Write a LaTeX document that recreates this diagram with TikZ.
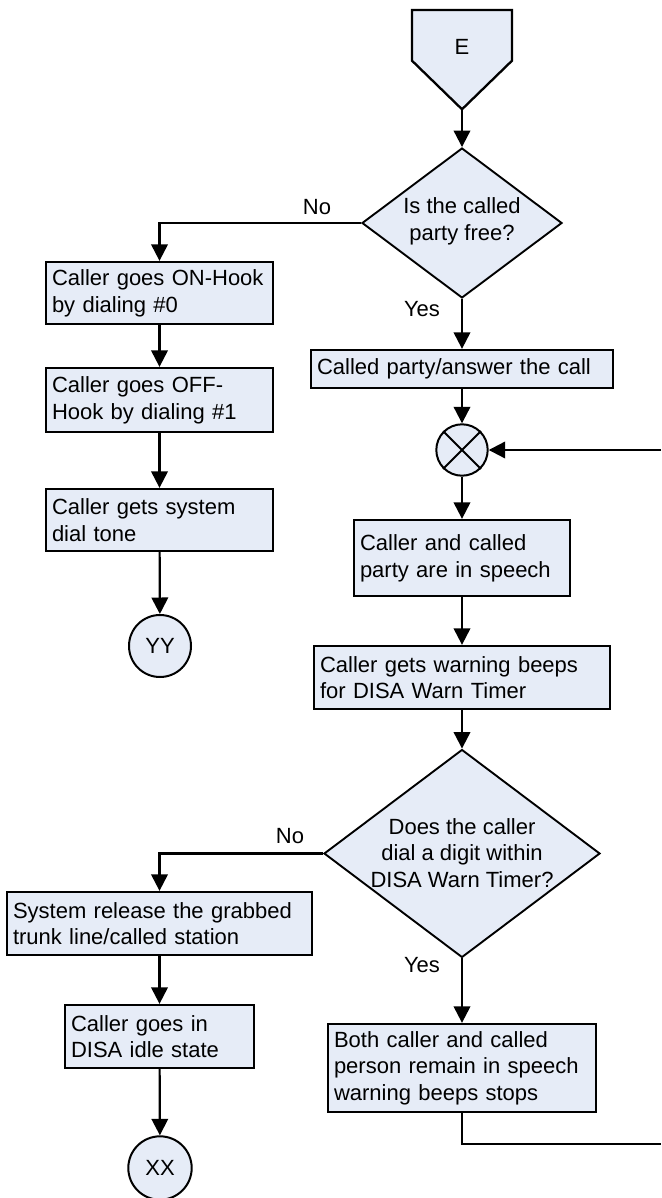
\documentclass[tikz,border=0pt]{standalone}
\usepackage{fontspec}
\setmainfont{Liberation Sans}
\usetikzlibrary{arrows.meta,shapes.geometric}
\definecolor{boxfill}{RGB}{230,236,247}
\begin{document}
\begin{tikzpicture}[x=1pt,y=-1pt,
  font=\fontsize{22}{26.7}\selectfont,
  box/.style={draw, fill=boxfill, line width=2.3pt, inner xsep=6pt, inner ysep=0pt, align=left},
  decision/.style={diamond, draw, fill=boxfill, line width=1.9pt, inner sep=0pt},
  conn/.style={draw, line width=2.2pt},
  flow/.style={conn, -{Triangle[length=16.5pt,width=16.5pt]}},
  term/.style={circle, draw, fill=boxfill, line width=2pt, inner sep=0pt},
  lbl/.style={inner sep=0pt}
]
\useasboundingbox (0,0) rectangle (661,1198);

% off-page entry connector
\draw[fill=boxfill, line width=2.3pt, line join=miter]
  (412,10) -- (512,10) -- (512,60.7) -- (462,109.3) -- (412,60.7) -- cycle;
\node (E) at (462,47) {E};
\coordinate (Etip) at (462,109.3);

% first decision
\node[decision, minimum width=200pt, minimum height=150pt] (d1) at (462,223) {};
\node[align=center, inner sep=0pt] (d1t) at (462,221) {Is the called\\party free?};

% left branch
\node[box, text width=215pt, minimum height=62pt] (b1) at (159.5,293) {Caller goes ON-Hook\\by dialing \#0};
\node[box, text width=215pt, minimum height=64pt] (b2) at (159.5,400) {Caller goes OFF-\\Hook by dialing \#1};
\node[box, text width=215pt, minimum height=62pt] (b3) at (159.5,520) {Caller gets system\\dial tone};
\node[term, minimum size=62pt] (yy) at (160,646) {YY};

% main column
\node[box, text width=290pt, minimum height=38pt] (c1) at (462,369) {Called party/answer the call};
\node[term, minimum size=51.4pt] (sum) at (462,450) {};
\draw[line width=1.8pt] (sum.north east) -- (sum.south west) (sum.north west) -- (sum.south east);
\node[box, text width=204pt, minimum height=76pt] (c2) at (462,558) {Caller and called\\party are in speech};
\node[box, text width=284pt, minimum height=63pt] (c3) at (462,677.5) {Caller gets warning beeps\\for DISA Warn Timer};

% second decision
\node[decision, minimum width=276pt, minimum height=208pt] (d2) at (462,853.5) {};
\node[align=center, inner sep=0pt] (d2t) at (462,853) {Does the caller\\dial a digit within\\DISA Warn Timer?};

\node[box, text width=293pt, minimum height=63pt] (l1) at (159.5,923.5) {System release the grabbed\\trunk line/called station};
\node[box, text width=177pt, minimum height=63pt] (l2) at (159.5,1036.5) {Caller goes in\\DISA idle state};
\node[term, minimum size=63.4pt] (xx) at (160,1168) {XX};

\node[box, text width=256pt, minimum height=88pt] (c4) at (462,1068) {Both caller and called\\person remain in speech\\warning beeps stops};

% branch labels
\node[lbl] (no1) at (317,207) {No};
\node[lbl] (yes1) at (422,309) {Yes};
\node[lbl] (no2) at (290,836) {No};
\node[lbl] (yes2) at (422,965) {Yes};

% loop ends
\coordinate (loopin) at (661,450);
\coordinate (loopout) at (661,1143.7);

% connectors
\draw[flow] (Etip) -- (d1.north);
\draw[flow] (d1.west) -| (b1.north);
\draw[flow] (d1.south) -- (c1.north);
\draw[flow] (b1) -- (b2);
\draw[flow] (b2) -- (b3);
\draw[flow] (b3) -- (yy);
\draw[flow] (c1) -- (sum);
\draw[flow] (loopin) -- (sum.east);
\draw[flow] (sum) -- (c2);
\draw[flow] (c2) -- (c3);
\draw[flow] (c3) -- (d2.north);
\draw[flow] (d2.west) -| (l1.north);
\draw[flow] (d2.south) -- (c4.north);
\draw[flow] (l1) -- (l2);
\draw[flow] (l2) -- (xx);
\draw[conn] (c4.south) |- (loopout);
\end{tikzpicture}
\end{document}
